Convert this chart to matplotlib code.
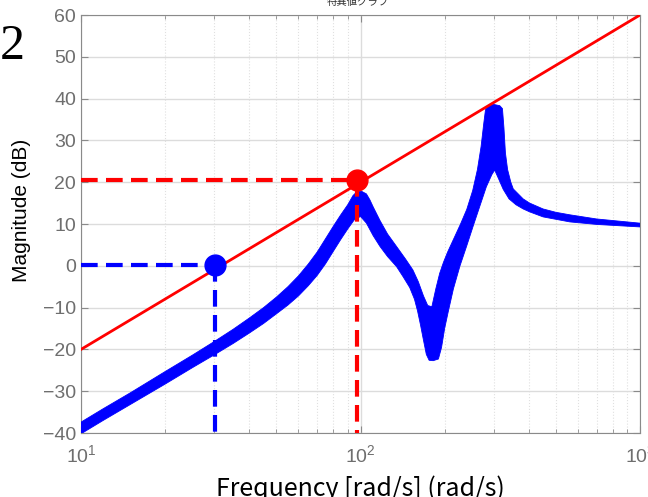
import numpy as np
import matplotlib
matplotlib.use("Agg")
import matplotlib.pyplot as plt

# singular-value band: upper and lower envelope (dB)
f_upper = [10, 12, 15, 20, 25, 30, 35, 40, 45, 50, 55, 60, 65, 70, 75, 80, 85, 90,
           94, 97, 101, 105, 108, 111, 117.5, 125, 135, 145, 154, 161, 168, 174, 180,
           186, 192, 198, 205, 215, 228, 240, 252, 262, 270, 276, 280, 285, 300, 315,
           322, 326, 330, 336, 345, 352, 382, 403, 450, 500, 561, 700, 1000]
db_upper = [-37.4, -34.2, -30.4, -25.3, -21.4, -18.1, -15.2, -12.5, -10.0, -7.5, -5.0,
            -2.4, 0.4, 3.3, 6.5, 9.5, 12.2, 14.6, 16.8, 17.7, 17.8, 17.2, 15.8, 14.1,
            10.8, 7.6, 4.5, 1.6, -1.0, -3.8, -7.2, -9.5, -9.8,
            -5.5, -1.8, 0.8, 3.3, 6.3, 10.0, 13.5, 18.0, 23.0, 28.5, 34.0, 37.3, 38.3,
            38.6, 38.3, 37.6, 33.0, 27.0, 23.0, 20.0, 18.4, 16.0, 15.0, 13.6, 12.8,
            12.2, 11.2, 10.2]
f_lower = [10, 12, 15, 20, 25, 30, 35, 40, 45, 50, 55, 60, 65, 70, 75, 80, 85, 90,
           95, 100, 105, 111, 117.5, 125, 134.6, 142, 150, 156, 160, 164, 168, 172,
           176, 182, 190, 195, 200, 206, 215, 227, 240, 253, 268, 282, 295, 302,
           312, 324, 340, 360, 382, 403, 450, 561, 700, 1000]
db_lower = [-40.2, -37.0, -33.2, -28.3, -24.4, -21.3, -18.6, -16.1, -13.8, -11.5,
            -9.4, -7.2, -4.8, -2.3, 0.5, 3.5, 6.3, 8.8, 11.0, 11.8, 10.2, 7.2, 4.6,
            2.2, -0.2, -2.6, -5.2, -8.0, -10.8, -14.2, -17.8, -21.2, -22.6, -22.7,
            -22.3, -19.5, -15.0, -11.0, -5.5, 0.0, 4.8, 9.5, 14.5, 18.9, 21.8, 22.9,
            20.8, 18.3, 16.0, 14.6, 13.6, 12.9, 11.7, 10.5, 9.9, 9.3]

# weighting line and marked crossover points
red_f = [10, 1000]
red_db = [-20, 60]
red_pt = (97.5, 20.5)
blue_pt = (30.2, 0.2)

xtick_vals = [10, 100, 1000]
xtick_labels = [r"$\mathregular{10^{1}}$", r"$\mathregular{10^{2}}$", r"$\mathregular{10^{3}}$"]
ytick_vals = list(range(-40, 61, 10))

plt.rcParams["font.family"] = ["Liberation Sans", "Noto Sans CJK JP"]
plt.rcParams["axes.unicode_minus"] = True

fig = plt.figure(figsize=(6.48, 4.97), dpi=100)
ax = fig.add_axes([81 / 648, 1 - 433 / 497, (640 - 81) / 648, (433 - 15) / 497])

blue = "#0000ff"
red = "#ff0000"

band_x = f_upper + f_lower[::-1]
band_y = db_upper + db_lower[::-1]
ax.fill(band_x, band_y, color=blue, lw=0.6, zorder=3)

ax.plot(red_f, red_db, color=red, lw=2.0, zorder=4)

dash = (0, (4, 2))
ax.plot([10, red_pt[0]], [red_pt[1], red_pt[1]], color=red, lw=3, ls=dash, zorder=5)
ax.plot([red_pt[0], red_pt[0]], [red_pt[1], -40], color=red, lw=3, ls=dash, zorder=5)
ax.plot(*red_pt, "o", color=red, ms=15, zorder=6)

ax.plot([10, blue_pt[0]], [blue_pt[1], blue_pt[1]], color=blue, lw=3, ls=dash, zorder=5)
ax.plot([blue_pt[0], blue_pt[0]], [blue_pt[1], -40], color=blue, lw=3, ls=dash, zorder=5)
ax.plot(*blue_pt, "o", color=blue, ms=15, zorder=6)

ax.set_xscale("log")
ax.set_xlim(10, 1000)
ax.set_ylim(-40, 60)
ax.set_xticks(xtick_vals)
ax.set_xticklabels(xtick_labels)
ax.set_yticks(ytick_vals)

gray = "#6e6e6e"
ax.grid(True, which="major", color="#dcdcdc", lw=1.0)
ax.grid(True, which="minor", axis="x", color="#e0e0e0", lw=0.8, ls=":")
ax.set_axisbelow(True)
for s in ax.spines.values():
    s.set_color("#8a8a8a")
    s.set_linewidth(0.8)
ax.tick_params(which="both", direction="in", top=True, right=True, colors="#8a8a8a",
               labelcolor=gray, labelsize=14)
ax.tick_params(which="major", length=5)
ax.tick_params(which="minor", length=3)
ax.tick_params(axis="x", pad=8)

ax.set_ylabel("Magnitude (dB)", fontsize=15, color="black")
ax.yaxis.set_label_coords((31 - 81) / 559, (433 - 210) / 418)
ax.set_xlabel("Frequency [rad/s] (rad/s)", fontsize=18, color="black",
              family=["Noto Sans CJK JP"], labelpad=7)

fig.text(358 / 648, 1 - 2 / 497, "特異値グラフ", fontsize=7.5, ha="center", va="center",
         family=["Noto Sans CJK JP"], color="#333333")
fig.text(0, 1 - 59 / 497, "2", fontsize=36, family=["Liberation Serif"],
         ha="left", va="baseline", color="black")

fig.savefig("out.png", dpi=100)
